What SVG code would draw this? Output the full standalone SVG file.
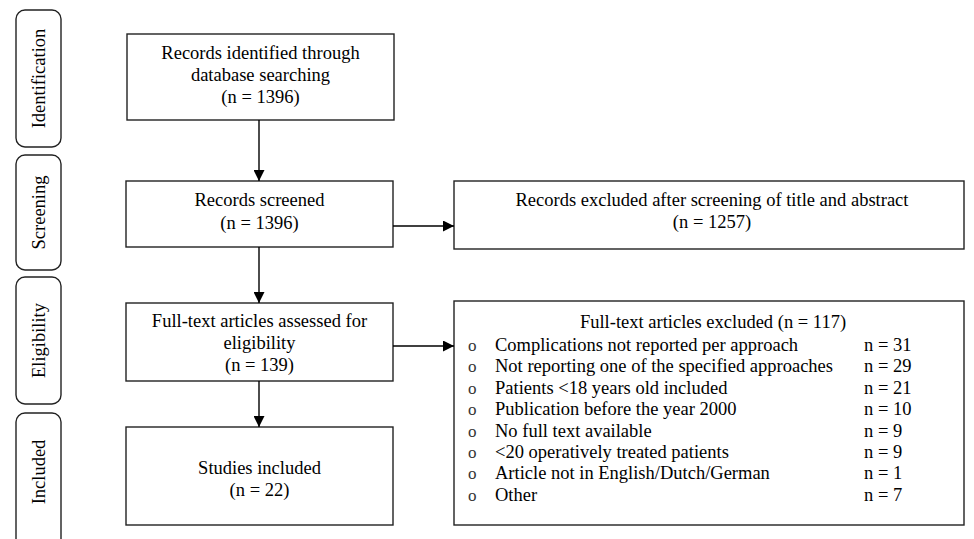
<svg xmlns="http://www.w3.org/2000/svg" width="974" height="539" viewBox="0 0 974 539">
<defs>
<marker id="ah" markerWidth="11" markerHeight="11" viewBox="0 0 11 11" refX="11" refY="5.5" orient="auto" markerUnits="userSpaceOnUse">
<path d="M0,0 L11,5.5 L0,11 Z" fill="#000"/>
</marker>
<style>
.box{fill:#fff;stroke:#222;stroke-width:1.4}
.side{fill:#fff;stroke:#222;stroke-width:1.4}
.t{font-family:"Liberation Serif","Times New Roman",serif;font-size:18.5px;fill:#000}
.c{text-anchor:middle}
.b{font-size:17px;fill:#333}
.conn line{stroke:#000;stroke-width:1.4;marker-end:url(#ah)}
</style>
</defs>
<rect width="974" height="539" fill="#fff"/>

<g id="phase-identification">
<rect class="side" x="16" y="10" width="45" height="137" rx="9"/>
<text class="t c" transform="translate(45,78.5) rotate(-90)">Identification</text>
</g>
<g id="phase-screening">
<rect class="side" x="16" y="155" width="45" height="115" rx="9"/>
<text class="t c" transform="translate(45,212.5) rotate(-90)">Screening</text>
</g>
<g id="phase-eligibility">
<rect class="side" x="16" y="277" width="45" height="127" rx="9"/>
<text class="t c" transform="translate(45,340.5) rotate(-90)">Eligibility</text>
</g>
<g id="phase-included">
<rect class="side" x="16" y="413" width="45" height="150" rx="9"/>
<text class="t c" transform="translate(45,472) rotate(-90)">Included</text>
</g>

<g id="identified">
<rect class="box" x="127" y="34" width="267" height="86"/>
<text class="t c" x="260.5" y="59">Records identified through</text>
<text class="t c" x="260.5" y="81">database searching</text>
<text class="t c" x="260.5" y="103">(n = 1396)</text>
</g>
<g id="screened">
<rect class="box" x="126" y="181" width="267" height="66"/>
<text class="t c" x="259.5" y="206">Records screened</text>
<text class="t c" x="259.5" y="229">(n = 1396)</text>
</g>
<g id="excluded-screening">
<rect class="box" x="454" y="181" width="510" height="68"/>
<text class="t c" x="712" y="206">Records excluded after screening of title and abstract</text>
<text class="t c" x="712" y="228">(n = 1257)</text>
</g>
<g id="assessed">
<rect class="box" x="126" y="303" width="267" height="78"/>
<text class="t c" x="259.5" y="327">Full-text articles assessed for</text>
<text class="t c" x="259.5" y="349">eligibility</text>
<text class="t c" x="259.5" y="371">(n = 139)</text>
</g>
<g id="excluded-fulltext">
<rect class="box" x="454" y="301" width="510" height="224"/>
<text class="t c" x="713" y="328">Full-text articles excluded (n = 117)</text>
<g class="t">
<text class="b" x="468" y="351">o</text><text x="495" y="351">Complications not reported per approach</text><text x="864" y="351">n = 31</text>
<text class="b" x="468" y="372.4">o</text><text x="495" y="372.4">Not reporting one of the specified approaches</text><text x="864" y="372.4">n = 29</text>
<text class="b" x="468" y="393.8">o</text><text x="495" y="393.8">Patients &lt;18 years old included</text><text x="864" y="393.8">n = 21</text>
<text class="b" x="468" y="415.2">o</text><text x="495" y="415.2">Publication before the year 2000</text><text x="864" y="415.2">n = 10</text>
<text class="b" x="468" y="436.6">o</text><text x="495" y="436.6">No full text available</text><text x="864" y="436.6">n = 9</text>
<text class="b" x="468" y="458">o</text><text x="495" y="458">&lt;20 operatively treated patients</text><text x="864" y="458">n = 9</text>
<text class="b" x="468" y="479.4">o</text><text x="495" y="479.4">Article not in English/Dutch/German</text><text x="864" y="479.4">n = 1</text>
<text class="b" x="468" y="500.8">o</text><text x="495" y="500.8">Other</text><text x="864" y="500.8">n = 7</text>
</g>
</g>
<g id="included">
<rect class="box" x="126" y="427" width="267" height="98"/>
<text class="t c" x="259.5" y="474">Studies included</text>
<text class="t c" x="259.5" y="496">(n = 22)</text>
</g>

<g id="connectors" class="conn">
<line x1="259" y1="120" x2="259" y2="181"/>
<line x1="393" y1="226" x2="454" y2="226"/>
<line x1="259" y1="247" x2="259" y2="303"/>
<line x1="393" y1="346" x2="454" y2="346"/>
<line x1="259" y1="381" x2="259" y2="427"/>
</g>
</svg>
